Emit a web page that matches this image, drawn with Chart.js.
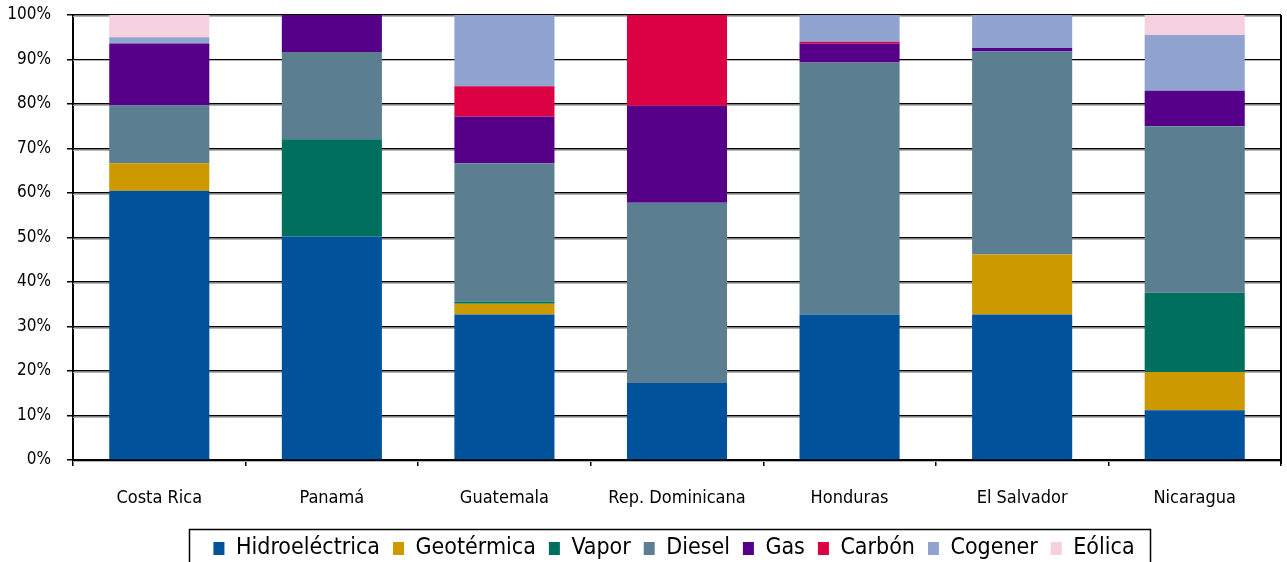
<!DOCTYPE html>
<html>
<head>
<meta charset="utf-8">
<script src="https://cdn.jsdelivr.net/npm/chart.js@4.4.1/dist/chart.umd.min.js"></script>
<style>
html,body{margin:0;padding:0;background:#fff;}
#wrap{width:1287px;height:562px;position:relative;}
</style>
</head>
<body>
<div id="wrap"><canvas id="c" width="1287" height="562"></canvas></div>
<script>
const categories = ['Costa Rica', 'Panamá', 'Guatemala', 'Rep. Dominicana', 'Honduras', 'El Salvador', 'Nicaragua'];
const hidroelectrica = [60.5, 50.2, 32.7, 17.3, 32.7, 32.7, 11.2];
const geotermica     = [6.2, 0, 2.4, 0, 0, 13.5, 8.6];
const vapor          = [0, 21.9, 0.5, 0, 0, 0, 17.8];
const diesel         = [13.0, 19.6, 31.1, 40.5, 56.6, 45.6, 37.4];
const gas            = [13.9, 8.3, 10.5, 21.8, 4.3, 0.8, 8.0];
const carbon         = [0, 0, 6.8, 20.4, 0.4, 0, 0];
const cogener        = [1.4, 0, 16.0, 0, 6.0, 7.4, 12.5];
const eolica         = [5.0, 0, 0, 0, 0, 0, 4.5];
const yTicks = [0, 10, 20, 30, 40, 50, 60, 70, 80, 90, 100];

const FONT = "'DejaVu Sans Condensed', 'Liberation Sans Narrow', 'DejaVu Sans', sans-serif";
const LEGEND_PAD = 13;

const series = [
  ['Hidroeléctrica', hidroelectrica, '#00529B'],
  ['Geotérmica', geotermica, '#CC9900'],
  ['Vapor', vapor, '#006F5E'],
  ['Diesel', diesel, '#5B7F90'],
  ['Gas', gas, '#56008A'],
  ['Carbón', carbon, '#DC0044'],
  ['Cogener', cogener, '#91A3CF'],
  ['Eólica', eolica, '#F5D0DF']
];

const decor = {
  id: 'decor',
  afterLayout(chart) {
    const lg = chart.legend;
    if (!lg) return;
    const dx = 674 - (lg.left + lg.right) / 2;
    lg.left += dx;
    lg.right += dx;
    if (typeof lg.adjustHitBoxes === 'function') lg.adjustHitBoxes();
  },
  beforeDatasetsDraw(chart) {
    const {ctx, chartArea, scales} = chart;
    ctx.save();
    ctx.strokeStyle = '#b4b4b4';
    ctx.lineWidth = 1;
    scales.y.ticks.forEach(t => {
      const y = Math.round(scales.y.getPixelForValue(t.value)) + 1.5;
      ctx.beginPath();
      ctx.moveTo(chartArea.left, y);
      ctx.lineTo(chartArea.right, y);
      ctx.stroke();
    });
    ctx.restore();
  },
  afterDraw(chart) {
    const {ctx, chartArea} = chart;
    ctx.save();
    ctx.strokeStyle = '#000';
    ctx.lineWidth = 2;
    ctx.beginPath();
    ctx.moveTo(chartArea.right, chartArea.top);
    ctx.lineTo(chartArea.right, chartArea.bottom + 4);
    ctx.stroke();
    const lg = chart.legend;
    if (lg && lg.lineWidths && lg.lineWidths.length) {
      const lw = lg.lineWidths[0];
      const itemsLeft = (lg.left + LEGEND_PAD + lg.right - lw) / 2;
      const itemsRight = itemsLeft + lw - LEGEND_PAD;
      const left = itemsLeft - 24;
      const right = itemsRight + 16;
      const top = lg.top + LEGEND_PAD - 8;
      ctx.lineWidth = 1.5;
      ctx.strokeRect(Math.round(left) + 0.5, Math.round(top) + 0.5, Math.round(right - left), 60);
    }
    ctx.restore();
  }
};

new Chart(document.getElementById('c'), {
  type: 'bar',
  data: {
    labels: categories,
    datasets: series.map(s => ({
      label: s[0],
      data: s[1],
      backgroundColor: s[2],
      borderWidth: 0,
      categoryPercentage: 1,
      barPercentage: 0.58
    }))
  },
  options: {
    responsive: false,
    animation: false,
    layout: { padding: { left: 0, right: 6, top: 15, bottom: -8 } },
    plugins: {
      legend: {
        position: 'bottom',
        labels: {
          color: '#000',
          boxWidth: 11,
          boxHeight: 13,
          padding: LEGEND_PAD,
          font: { family: FONT, size: 23 }
        }
      },
      tooltip: { enabled: false }
    },
    scales: {
      x: {
        stacked: true,
        offset: true,
        grid: {
          display: true,
          offset: true,
          drawOnChartArea: false,
          drawTicks: true,
          tickLength: 6,
          color: '#000',
          lineWidth: 1.5
        },
        border: { display: true, color: '#000', width: 2 },
        ticks: {
          color: '#000',
          padding: 22,
          font: { family: FONT, size: 18 },
          maxRotation: 0
        },
        afterFit(scale) { scale.height = 64; }
      },
      y: {
        stacked: true,
        min: 0,
        max: 100,
        afterBuildTicks(scale) { scale.ticks = yTicks.map(v => ({ value: v })); },
        grid: {
          color: '#000',
          lineWidth: 1.5,
          drawTicks: true,
          tickLength: 6
        },
        border: { display: true, color: '#000', width: 2 },
        ticks: {
          color: '#000',
          padding: 16,
          font: { family: FONT, size: 17 },
          callback: v => v + '%'
        },
        afterFit(scale) {
          scale.width = 73;
          scale.paddingTop = 0;
          scale.paddingBottom = 0;
        }
      }
    }
  },
  plugins: [decor]
});
</script>
</body>
</html>
